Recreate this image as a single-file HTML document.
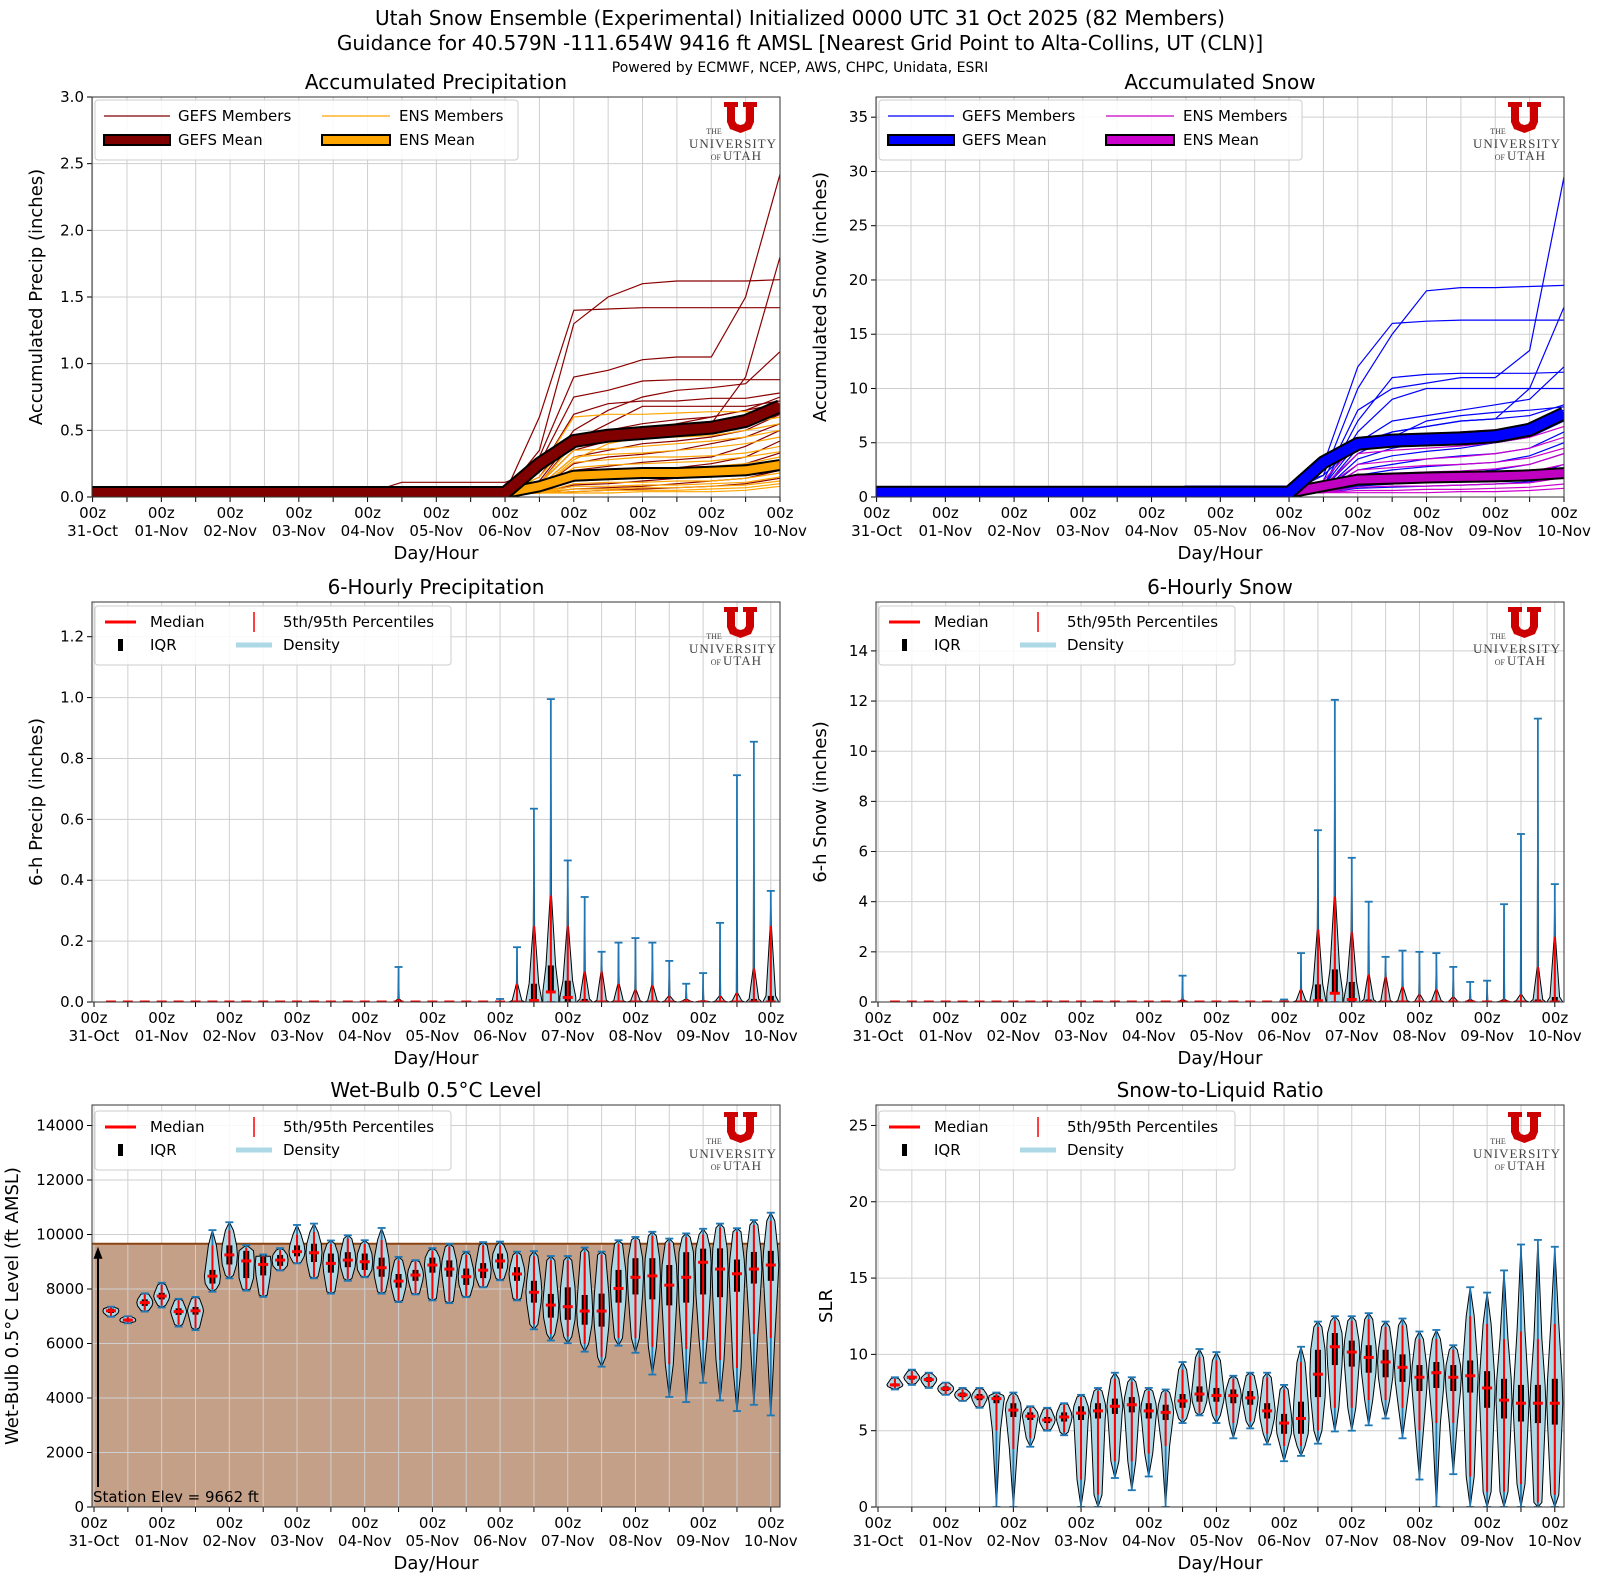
<!DOCTYPE html>
<html><head><meta charset="utf-8"><title>Utah Snow Ensemble</title>
<style>
html,body{margin:0;padding:0;background:#fff;}
svg{display:block;font-family:"DejaVu Sans","Liberation Sans",sans-serif;}
</style></head>
<body>
<svg id="chart" width="1600" height="1582" viewBox="0 0 1600 1582" xmlns="http://www.w3.org/2000/svg">
<text x="800" y="25" text-anchor="middle" font-size="20">Utah Snow Ensemble (Experimental) Initialized 0000 UTC 31 Oct 2025 (82 Members)</text>
<text x="800" y="50" text-anchor="middle" font-size="20">Guidance for 40.579N -111.654W 9416 ft AMSL [Nearest Grid Point to Alta-Collins, UT (CLN)]</text>
<text x="800" y="72" text-anchor="middle" font-size="14">Powered by ECMWF, NCEP, AWS, CHPC, Unidata, ESRI</text>
</svg>
<script>
// ---------- data ----------
const hours = [0,12,24,36,48,60,72,84,96,108,120,132,144,156,168,180,192,204,216,228,240];
const dateLabels = ['31-Oct','01-Nov','02-Nov','03-Nov','04-Nov','05-Nov','06-Nov','07-Nov','08-Nov','09-Nov','10-Nov'];
const precipTicks = [0,0.5,1.0,1.5,2.0,2.5,3.0];
const snowTicks = [0,5,10,15,20,25,30,35];
const p6Ticks = [0,0.2,0.4,0.6,0.8,1.0,1.2];
const s6Ticks = [0,2,4,6,8,10,12,14];
const wbTicks = [0,2000,4000,6000,8000,10000,12000,14000];
const slrTicks = [0,5,10,15,20,25];
const stationElev = 9662;

const gefsPrecip = [
 [.03,.03,.03,.03,.03,.03,.03,.03,.03,.03,.03,.03,.03,.35,1.3,1.5,1.6,1.62,1.62,1.62,1.63],
 [.03,.03,.03,.03,.03,.03,.03,.03,.03,.03,.03,.03,.03,.6,1.4,1.41,1.42,1.42,1.42,1.42,1.42],
 [.03,.03,.03,.03,.03,.03,.03,.03,.03,.03,.03,.03,.03,.3,.9,.95,1.03,1.05,1.05,1.5,2.42],
 [.03,.03,.03,.03,.03,.03,.03,.03,.03,.03,.03,.03,.03,.25,.75,.8,.87,.88,.88,.88,.88],
 [.03,.03,.03,.03,.03,.03,.03,.03,.03,.03,.03,.03,.03,.2,.62,.7,.72,.72,.74,.74,.78],
 [.03,.03,.03,.03,.03,.03,.03,.03,.03,.03,.03,.03,.03,.15,.5,.65,.75,.8,.82,.85,1.09],
 [.03,.03,.03,.03,.03,.03,.03,.03,.03,.03,.03,.03,.03,.12,.45,.5,.52,.52,.55,.9,1.8],
 [.03,.03,.03,.03,.03,.03,.03,.03,.03,.03,.03,.03,.03,.1,.42,.55,.68,.68,.68,.68,.72],
 [.03,.03,.03,.03,.03,.03,.03,.03,.03,.03,.03,.03,.03,.1,.35,.42,.5,.55,.6,.65,.7],
 [.03,.03,.03,.03,.03,.03,.03,.03,.03,.03,.03,.03,.03,.08,.3,.35,.4,.42,.45,.5,.62],
 [.03,.03,.03,.03,.03,.03,.03,.03,.03,.03,.03,.03,.03,.06,.25,.3,.32,.35,.4,.45,.55],
 [.03,.03,.03,.03,.03,.03,.03,.03,.03,.03,.03,.03,.03,.05,.2,.23,.26,.28,.3,.38,.5],
 [.03,.03,.03,.03,.03,.03,.03,.03,.03,.03,.03,.03,.03,.05,.15,.18,.2,.22,.25,.3,.42],
 [.03,.03,.03,.03,.03,.03,.03,.03,.03,.03,.03,.03,.03,.04,.12,.14,.16,.18,.2,.25,.33],
 [.03,.03,.03,.03,.03,.03,.03,.03,.03,.03,.03,.03,.03,.04,.09,.1,.12,.14,.16,.2,.27],
 [.03,.03,.03,.03,.03,.03,.03,.03,.03,.03,.03,.03,.03,.03,.06,.07,.08,.1,.12,.14,.2],
 [.03,.03,.03,.03,.03,.03,.03,.03,.03,.03,.03,.03,.03,.03,.04,.05,.06,.07,.08,.1,.14],
 [.03,.03,.03,.03,.03,.03,.03,.03,.03,.11,.11,.11,.11,.2,.45,.5,.55,.58,.6,.65,.75]
];
const ensPrecip = [
 [.03,.03,.03,.03,.03,.03,.03,.03,.03,.03,.03,.03,.03,.2,.6,.62,.62,.63,.64,.64,.65],
 [.03,.03,.03,.03,.03,.03,.03,.03,.03,.03,.03,.03,.03,.15,.45,.47,.5,.5,.52,.55,.6],
 [.03,.03,.03,.03,.03,.03,.03,.03,.03,.03,.03,.03,.03,.1,.4,.42,.44,.45,.46,.5,.55],
 [.03,.03,.03,.03,.03,.03,.03,.03,.03,.03,.03,.03,.03,.1,.35,.36,.38,.4,.42,.45,.5],
 [.03,.03,.03,.03,.03,.03,.03,.03,.03,.03,.03,.03,.03,.08,.3,.32,.33,.35,.37,.4,.45],
 [.03,.03,.03,.03,.03,.03,.03,.03,.03,.03,.03,.03,.03,.06,.26,.28,.3,.3,.31,.33,.38],
 [.03,.03,.03,.03,.03,.03,.03,.03,.03,.03,.03,.03,.03,.05,.22,.24,.25,.26,.27,.3,.34],
 [.03,.03,.03,.03,.03,.03,.03,.03,.03,.03,.03,.03,.03,.05,.18,.2,.21,.22,.23,.25,.3],
 [.03,.03,.03,.03,.03,.03,.03,.03,.03,.03,.03,.03,.03,.04,.15,.16,.17,.18,.19,.21,.26],
 [.03,.03,.03,.03,.03,.03,.03,.03,.03,.03,.03,.03,.03,.04,.12,.13,.14,.14,.15,.17,.22],
 [.03,.03,.03,.03,.03,.03,.03,.03,.03,.03,.03,.03,.03,.03,.1,.11,.11,.12,.12,.14,.18],
 [.03,.03,.03,.03,.03,.03,.03,.03,.03,.03,.03,.03,.03,.03,.08,.08,.09,.09,.1,.11,.15],
 [.03,.03,.03,.03,.03,.03,.03,.03,.03,.03,.03,.03,.03,.03,.06,.06,.07,.07,.08,.09,.12],
 [.03,.03,.03,.03,.03,.03,.03,.03,.03,.03,.03,.03,.03,.03,.04,.05,.05,.05,.06,.07,.1],
 [.03,.03,.03,.03,.03,.03,.03,.03,.03,.03,.03,.03,.03,.03,.03,.03,.04,.04,.04,.05,.08],
 [.03,.03,.03,.03,.03,.03,.03,.03,.03,.03,.03,.03,.03,.06,.28,.4,.45,.5,.55,.6,.65]
];
const gefsPrecipMean = [.03,.03,.03,.03,.03,.03,.03,.03,.03,.03,.03,.03,.03,.25,.42,.46,.48,.5,.52,.57,.68];
const ensPrecipMean  = [.03,.03,.03,.03,.03,.03,.03,.03,.03,.03,.03,.03,.03,.08,.16,.17,.18,.18,.19,.2,.24];

const gefsSnow = [
 [.4,.4,.4,.4,.4,.4,.4,.4,.4,.4,.4,.4,.4,3,12,16,16.2,16.3,16.3,16.3,16.3],
 [.4,.4,.4,.4,.4,.4,.4,.4,.4,.4,.4,.4,.4,2,10,15,19,19.3,19.3,19.4,19.5],
 [.4,.4,.4,.4,.4,.4,.4,.4,.4,.4,.4,.4,.4,1.5,8,10,10.5,11,11,13.5,29.5],
 [.4,.4,.4,.4,.4,.4,.4,.4,.4,.4,.4,.4,.4,1,7,11,11.3,11.4,11.4,11.4,11.5],
 [.4,.4,.4,.4,.4,.4,.4,.4,.4,.4,.4,.4,.4,1,6,9,10,10,10,10,10],
 [.4,.4,.4,.4,.4,.4,.4,.4,.4,.4,.4,.4,.4,1,5,7,7.5,8,8.5,9,12],
 [.4,.4,.4,.4,.4,.4,.4,.4,.4,.4,.4,.4,.4,.8,4.5,6,6.5,7,7.2,10,17.5],
 [.4,.4,.4,.4,.4,.4,.4,.4,.4,.4,.4,.4,.4,.8,4,5.5,7,7.5,7.8,8,8.3],
 [.4,.4,.4,.4,.4,.4,.4,.4,.4,.4,.4,.4,.4,.6,3.5,4.5,5,5.5,6,6.5,8],
 [.4,.4,.4,.4,.4,.4,.4,.4,.4,.4,.4,.4,.4,.5,3,3.8,4.2,4.5,5,5.5,7],
 [.4,.4,.4,.4,.4,.4,.4,.4,.4,.4,.4,.4,.4,.5,2.5,3,3.5,3.8,4,4.5,6],
 [.4,.4,.4,.4,.4,.4,.4,.4,.4,.4,.4,.4,.4,.5,2,2.5,2.8,3,3.2,3.8,5],
 [.4,.4,.4,.4,.4,.4,.4,.4,.4,.4,.4,.4,.4,.4,1.5,1.8,2,2.2,2.5,3,4],
 [.4,.4,.4,.4,.4,.4,.4,.4,.4,.4,.4,.4,.4,.4,1,1.2,1.4,1.6,1.8,2,3],
 [.4,.4,.4,.4,.4,.4,.4,.4,.4,.4,.4,.4,.4,.4,.8,.9,1,1.1,1.2,1.4,2],
 [.4,.4,.4,.4,.4,.4,.4,.4,.4,1.0,1.0,1.0,1.0,2,5,6,6.5,7,7.2,7.5,8.5]
];
const ensSnow = [
 [.4,.4,.4,.4,.4,.4,.4,.4,.4,.4,.4,.4,.4,1.5,5,5.5,5.8,6,6.2,6.5,7.5],
 [.4,.4,.4,.4,.4,.4,.4,.4,.4,.4,.4,.4,.4,1,4,4.3,4.5,4.7,5,5.5,6.5],
 [.4,.4,.4,.4,.4,.4,.4,.4,.4,.4,.4,.4,.4,.8,3,3.3,3.5,3.7,4,4.5,5.5],
 [.4,.4,.4,.4,.4,.4,.4,.4,.4,.4,.4,.4,.4,.6,2.5,2.7,2.9,3,3.2,3.6,4.5],
 [.4,.4,.4,.4,.4,.4,.4,.4,.4,.4,.4,.4,.4,.5,2,2.2,2.3,2.4,2.6,3,4],
 [.4,.4,.4,.4,.4,.4,.4,.4,.4,.4,.4,.4,.4,.5,1.6,1.7,1.8,1.9,2,2.3,3],
 [.4,.4,.4,.4,.4,.4,.4,.4,.4,.4,.4,.4,.4,.4,1.2,1.3,1.4,1.5,1.6,1.8,2.5],
 [.4,.4,.4,.4,.4,.4,.4,.4,.4,.4,.4,.4,.4,.4,.9,1,1,1.1,1.2,1.3,1.8],
 [.4,.4,.4,.4,.4,.4,.4,.4,.4,.4,.4,.4,.4,.4,.6,.6,.7,.7,.8,.9,1.2],
 [.4,.4,.4,.4,.4,.4,.4,.4,.4,.4,.4,.4,.4,.4,.4,.4,.4,.5,.5,.6,.8]
];
const gefsSnowMean = [.4,.4,.4,.4,.4,.4,.4,.4,.4,.4,.4,.4,.4,3.2,4.9,5.2,5.3,5.4,5.6,6.2,7.7];
const ensSnowMean  = [.4,.4,.4,.4,.4,.4,.4,.4,.4,.4,.4,.4,.4,1,1.6,1.7,1.8,1.85,1.9,2,2.2];

const p6Med = [0,0,0,0,0,0,0,0,0,0,0,0,0,0,0,0,0,0,0,0,0,0,0,0,0,.005,.033,.015,0,0,0,0,0,0,0,0,0,0,0,0];
const p6Q1  = [0,0,0,0,0,0,0,0,0,0,0,0,0,0,0,0,0,0,0,0,0,0,0,0,0,0,.03,0,0,0,0,0,0,0,0,0,0,0,0,0];
const p6Q3  = [0,0,0,0,0,0,0,0,0,0,0,0,0,0,0,0,0,0,0,0,0,0,0,0,.005,.06,.12,.07,.01,.005,.004,.004,.004,.003,.002,.002,.003,.004,.01,.02];
const p6P5  = [0,0,0,0,0,0,0,0,0,0,0,0,0,0,0,0,0,0,0,0,0,0,0,0,0,0,0,0,0,0,0,0,0,0,0,0,0,0,0,0];
const p6P95 = [0,0,0,0,0,0,0,0,0,0,0,0,0,0,0,0,0,.01,0,0,0,0,0,0,.06,.25,.35,.25,.10,.10,.06,.04,.055,.02,.01,.005,.02,.03,.11,.25];
const p6Lo  = [0,0,0,0,0,0,0,0,0,0,0,0,0,0,0,0,0,0,0,0,0,0,0,0,0,0,0,0,0,0,0,0,0,0,0,0,0,0,0,0];
const p6Hi  = [.003,.003,.003,.003,.003,.003,.003,.003,.003,.003,.003,.003,.003,.003,.003,.003,.003,.115,.003,.003,.003,.003,.003,.01,.18,.635,.995,.465,.345,.165,.195,.21,.195,.135,.06,.095,.26,.745,.855,.365];

const s6Med = [0,0,0,0,0,0,0,0,0,0,0,0,0,0,0,0,0,0,0,0,0,0,0,0,0,.05,.35,.1,0,0,0,0,0,0,0,0,0,0,0,0];
const s6Q1  = [0,0,0,0,0,0,0,0,0,0,0,0,0,0,0,0,0,0,0,0,0,0,0,0,0,0,.3,0,0,0,0,0,0,0,0,0,0,0,0,0];
const s6Q3  = [0,0,0,0,0,0,0,0,0,0,0,0,0,0,0,0,0,0,0,0,0,0,0,0,.05,.7,1.3,.8,.1,.05,.05,.02,.05,.01,.01,.01,.02,.05,.1,.2];
const s6P5  = [0,0,0,0,0,0,0,0,0,0,0,0,0,0,0,0,0,0,0,0,0,0,0,0,0,0,0,0,0,0,0,0,0,0,0,0,0,0,0,0];
const s6P95 = [0,0,0,0,0,0,0,0,0,0,0,0,0,0,0,0,0,.1,0,0,0,0,0,0,.5,2.9,4.2,2.8,1.1,1.0,.6,.3,.5,.2,.1,.05,.1,.3,1.4,2.6];
const s6Lo  = [0,0,0,0,0,0,0,0,0,0,0,0,0,0,0,0,0,0,0,0,0,0,0,0,0,0,0,0,0,0,0,0,0,0,0,0,0,0,0,0];
const s6Hi  = [.03,.03,.03,.03,.03,.03,.03,.03,.03,.03,.03,.03,.03,.03,.03,.03,.03,1.05,.03,.03,.03,.03,.03,.1,1.95,6.85,12.05,5.75,4.0,1.8,2.05,2.0,1.95,1.4,.8,.85,3.9,6.7,11.3,4.7];

const wbMed = [7200,6860,7500,7740,7170,7200,8470,9250,9030,8900,9060,9370,9330,8940,9060,9000,8780,8290,8510,8880,8730,8450,8690,9030,8550,7880,7410,7350,7190,7190,8020,8430,8480,8140,8430,8980,8730,8560,8730,8880];
const wbQ1  = [7120,6800,7380,7620,7050,7060,8200,8900,8400,8500,8850,9200,8990,8600,8800,8700,8450,8050,8300,8600,8450,8150,8400,8750,8300,7500,6950,6870,6690,6620,7500,7800,7620,7400,7500,7800,7700,7900,8200,8300];
const wbQ3  = [7280,6920,7620,7860,7290,7340,8700,9600,9400,9200,9250,9600,9660,9300,9350,9300,9150,8550,8700,9150,9050,8750,8950,9300,8800,8300,7820,8060,7780,7830,8700,9130,9130,8880,9350,9480,9490,9080,9360,9400];
const wbP5  = [7020,6770,7220,7400,6700,6580,8000,8500,8000,7780,8720,8980,8450,7900,8380,8480,7900,7580,7850,7650,7550,7750,8100,8380,7650,6700,6350,6250,6000,5500,6200,6200,5870,5240,5800,6130,5400,5100,6350,6200];
const wbP95 = [7320,6980,7800,8150,7580,7650,9600,10150,9500,9200,9420,10000,10100,9650,9850,9650,9800,9050,9000,9400,9550,9250,9600,9600,9250,9200,9050,9050,9350,9250,9650,9800,9950,9700,9900,10000,10250,10100,10350,10500];
const wbLo  = [6980,6740,7170,7320,6620,6490,7900,8390,7940,7710,8680,8940,8390,7830,8300,8430,7830,7520,7800,7580,7480,7700,8060,8320,7580,6520,6110,6010,5700,5150,5920,5660,4860,4040,3850,4560,3910,3520,3750,3360];
const wbHi  = [7350,7000,7840,8230,7640,7710,10160,10450,9610,9270,9500,10350,10400,9780,9970,9790,10240,9180,9060,9500,9660,9370,9720,9740,9370,9390,9210,9210,9520,9370,9790,9910,10100,9850,10040,10210,10400,10230,10530,10800];

const slrMed = [8.0,8.5,8.35,7.75,7.35,7.2,7.1,6.35,5.95,5.7,5.9,6.15,6.3,6.6,6.7,6.3,6.2,6.95,7.4,7.3,7.3,7.15,6.3,5.5,5.8,8.7,10.5,10.15,9.8,9.5,9.15,8.5,8.8,8.5,8.6,7.8,7.0,6.8,6.8,6.8];
const slrQ1  = [7.9,8.35,8.2,7.6,7.2,7.0,6.8,5.9,5.7,5.5,5.6,5.7,5.8,6.1,6.2,5.8,5.7,6.5,6.9,6.9,6.8,6.7,5.8,4.8,4.8,7.2,9.3,9.2,8.8,8.5,8.2,7.6,7.8,7.6,7.5,6.5,5.8,5.6,5.5,5.4];
const slrQ3  = [8.1,8.6,8.5,7.9,7.5,7.4,7.3,6.8,6.2,5.9,6.2,6.6,6.8,7.1,7.2,6.8,6.7,7.4,7.9,7.8,7.7,7.6,6.8,6.1,6.9,10.3,11.4,10.9,10.6,10.3,10.0,9.3,9.5,9.3,9.6,8.9,8.4,8.0,8.0,8.4];
const slrP5  = [7.8,8.1,7.9,7.4,7.0,6.6,5.0,3.8,4.5,5.1,4.9,1.8,0.8,3.0,3.0,3.5,4.0,5.8,6.2,6.0,5.5,5.6,4.8,4.0,4.0,5.0,6.5,6.5,7.0,7.0,6.5,5.0,5.5,5.5,2.0,1.0,1.0,1.5,0.3,0.8];
const slrP95 = [8.4,8.9,8.7,8.1,7.7,7.7,7.4,7.3,6.5,6.4,6.7,7.2,7.6,8.4,8.2,7.6,7.5,9.0,9.8,9.6,8.4,8.6,8.5,7.7,9.5,11.8,12.2,12.2,12.3,11.8,11.9,11.0,11.0,10.3,12.5,12.0,11.0,11.5,11.0,12.0];
const slrLo  = [7.7,8.0,7.8,7.35,6.95,6.5,0,0,3.95,5.0,4.7,0,0,1.9,1.1,2.0,0,5.5,6.0,5.5,4.5,5.15,4.1,3.0,3.35,4.15,4.95,5.0,5.35,5.8,4.5,1.8,0,2.15,0,0,0,0,0,0];
const slrHi  = [8.5,9.0,8.8,8.15,7.8,7.8,7.5,7.5,6.6,6.5,6.8,7.35,7.8,8.8,8.5,7.8,7.7,9.5,10.35,10.15,8.6,8.8,8.8,8.0,10.5,12.15,12.5,12.5,12.7,12.15,12.35,11.5,11.6,10.6,14.4,14.05,15.5,17.2,17.5,17.05];

// ---------- drawing ----------
const NS='http://www.w3.org/2000/svg';
const svg=document.getElementById('chart');
function mk(tag,attrs,parent){const e=document.createElementNS(NS,tag);for(const k in attrs)e.setAttribute(k,attrs[k]);(parent||svg).appendChild(e);return e;}

const panels={
 tl:{x0:92,x1:780,y0:97,y1:497,ymax:3.0,mode:'line'},
 tr:{x0:876,x1:1564,y0:97,y1:497,ymax:36.86,mode:'line'},
 ml:{x0:92,x1:780,y0:602,y1:1002,ymax:1.314,mode:'vio'},
 mr:{x0:876,x1:1564,y0:602,y1:1002,ymax:15.95,mode:'vio'},
 bl:{x0:92,x1:780,y0:1105,y1:1507,ymax:14752,mode:'vio'},
 br:{x0:876,x1:1564,y0:1105,y1:1507,ymax:26.34,mode:'vio'}
};
function xH(p,h){ return p.mode==='line' ? p.x0+0.6+h*(p.x1-p.x0-0.6)/240 : p.x0+2+(h/6)*16.92; }
function yV(p,v){ return p.y1-(v/p.ymax)*(p.y1-p.y0); }

function setupPanel(key,title,ylabel,ticks,fmt,ylabX){
 const p=panels[key];
 const g=mk('g',{});
 
 
 p.g=g;
 const cp=mk('clipPath',{id:'clip-'+key},g);
 mk('rect',{x:p.x0,y:p.y0,width:p.x1-p.x0,height:p.y1-p.y0},cp);
 mk('rect',{x:p.x0,y:p.y0,width:p.x1-p.x0,height:p.y1-p.y0,fill:'#fff'},g);
 p.bg=mk('g',{'clip-path':'url(#clip-'+key+')'},g);
 p.grid=mk('g',{},g);
 p.plot=mk('g',{'clip-path':'url(#clip-'+key+')'},g);
 for(let h=0;h<=240;h+=12){
  const x=xH(p,h);
  const gl=mk('line',{x1:x,x2:x,y1:p.y0,y2:p.y1,stroke:'#cfcfcf','stroke-width':1},p.grid);
  
  
  mk('line',{x1:x,x2:x,y1:p.y1,y2:p.y1+5,stroke:'#000','stroke-width':1},g);
  if(h%24===0){
   const t=mk('text',{x:x,y:p.y1+21,'text-anchor':'middle','font-size':15},g);
   t.textContent='00z';
   
   
   const d=mk('text',{x:x,y:p.y1+39,'text-anchor':'middle','font-size':15},g);
   d.textContent=dateLabels[h/24];
   
   
  }
 }
 ticks.forEach(v=>{
  const y=yV(p,v);
  const gl=mk('line',{x1:p.x0,x2:p.x1,y1:y,y2:y,stroke:'#cfcfcf','stroke-width':1},p.grid);
  
  
  mk('line',{x1:p.x0-5,x2:p.x0,y1:y,y2:y,stroke:'#000','stroke-width':1},g);
  const t=mk('text',{x:p.x0-8,y:y+5,'text-anchor':'end','font-size':15},g);
  t.textContent=fmt(v);
  
  
 });
 const tt=mk('text',{x:(p.x0+p.x1)/2,y:p.y0-8,'text-anchor':'middle','font-size':20},g);
 tt.textContent=title;
 
 
 const xl=mk('text',{x:(p.x0+p.x1)/2,y:p.y1+62,'text-anchor':'middle','font-size':18},g);
 xl.textContent='Day/Hour';
 
 
 const cy=(p.y0+p.y1)/2;
 const yl=mk('text',{x:ylabX,y:cy,'text-anchor':'middle','font-size':18,transform:'rotate(-90 '+ylabX+' '+cy+')'},g);
 yl.textContent=ylabel;
 
 
 return p;
}
function finishPanel(p){
 const fr=mk('rect',{x:p.x0,y:p.y0,width:p.x1-p.x0,height:p.y1-p.y0,fill:'none',stroke:'#333','stroke-width':1},p.g);
 
 
}
function linePath(p,vals){
 return vals.map((v,i)=>(i?'L':'M')+xH(p,hours[i]).toFixed(1)+','+yV(p,v).toFixed(1)).join('');
}
function drawMember(p,vals,color,name){
 const e=mk('path',{d:linePath(p,vals),fill:'none',stroke:color,'stroke-width':1.2},p.plot);
 
 
}
function drawMean(p,vals,color,w,name){
 mk('path',{d:linePath(p,vals),fill:'none',stroke:'#000','stroke-width':w+4,'stroke-linejoin':'round'},p.plot);
 const e=mk('path',{d:linePath(p,vals),fill:'none',stroke:color,'stroke-width':w,'stroke-linejoin':'round'},p.plot);
 
 
}
function drawViolins(p,med,q1,q3,p5,p95,lo,hi,minSpan,ws){
 for(let i=0;i<med.length;i++){
  const x=xH(p,(i+1)*6);
  const g=mk('g',{},p.plot);
  
  
  const w=8;
  if(hi[i]-lo[i]>minSpan){
   const vs=[lo[i],p5[i],q1[i],med[i],q3[i],p95[i],hi[i]];
   let right=vs.map((v,k)=>[x+ws[k]*w,yV(p,v)]);
   let left=vs.slice().reverse().map((v,k)=>[x-ws[6-k]*w,yV(p,v)]);
   const pts=right.concat(left).map(a=>a[0].toFixed(1)+','+a[1].toFixed(1)).join(' ');
   const body=mk('polygon',{points:pts,fill:'#add8e6',stroke:'#000','stroke-width':1,'stroke-linejoin':'round'},g);
   
   
   mk('line',{x1:x,x2:x,y1:yV(p,lo[i]),y2:yV(p,hi[i]),stroke:'#1f77b4','stroke-width':1.8},g);
   mk('line',{x1:x-4,x2:x+4,y1:yV(p,hi[i]),y2:yV(p,hi[i]),stroke:'#1f77b4','stroke-width':1.8},g);
   mk('line',{x1:x-4,x2:x+4,y1:yV(p,lo[i]),y2:yV(p,lo[i]),stroke:'#1f77b4','stroke-width':1.8},g);
   const yq3=yV(p,q3[i]),yq1=yV(p,q1[i]);
   mk('rect',{x:x-3,y:yq3,width:6,height:Math.max(0.5,yq1-yq3),fill:'#000'},g);
   mk('line',{x1:x,x2:x,y1:yV(p,p5[i]),y2:yV(p,p95[i]),stroke:'#ff0000','stroke-width':2},g);
  }
  const m=mk('line',{x1:x-5,x2:x+5,y1:yV(p,med[i]),y2:yV(p,med[i]),stroke:'#ff0000','stroke-width':3},g);
  
  
 }
}
function legendBox(x,y,w,h){
 const r=mk('rect',{x:x,y:y,width:w,height:h,rx:3,fill:'#fff','fill-opacity':0.85,stroke:'#cccccc','stroke-width':1});
 
 
}
function legText(x,y,s){
 const t=mk('text',{x:x,y:y+5,'font-size':15});
 t.textContent=s;
 
 
}
function lineLegend(dx,c1,c2,m1,m2){
 legendBox(95+dx,100,423,60);
 mk('line',{x1:104+dx,x2:170+dx,y1:116,y2:116,stroke:c1,'stroke-width':1.2});
 legText(178+dx,116,m1+' Members');
 mk('line',{x1:322+dx,x2:390+dx,y1:116,y2:116,stroke:c2,'stroke-width':1.2});
 legText(399+dx,116,m2+' Members');
 mk('rect',{x:104+dx,y:135,width:66,height:10,fill:c1,stroke:'#000','stroke-width':2});
 legText(178+dx,140,m1+' Mean');
 mk('rect',{x:322+dx,y:135,width:68,height:10,fill:c2,stroke:'#000','stroke-width':2});
 legText(399+dx,140,m2+' Mean');
}
function vioLegend(dx,dy){
 legendBox(95+dx,606+dy,356,59);
 mk('line',{x1:105+dx,x2:136+dx,y1:622+dy,y2:622+dy,stroke:'#ff0000','stroke-width':3});
 legText(150+dx,622+dy,'Median');
 mk('rect',{x:118+dx,y:639+dy,width:5,height:12,fill:'#000'});
 legText(150+dx,645+dy,'IQR');
 mk('line',{x1:254+dx,x2:254+dx,y1:612+dy,y2:632+dy,stroke:'#ff0000','stroke-width':1.5});
 legText(283+dx,622+dy,'5th/95th Percentiles');
 mk('line',{x1:236+dx,x2:272+dx,y1:645+dy,y2:645+dy,stroke:'#add8e6','stroke-width':5});
 legText(283+dx,645+dy,'Density');
}
function logo(dx,dy){
 const g=mk('g',{transform:'translate('+dx+','+dy+')'});
 
 
 const L=724,T=102;
 const pts=[[0,0],[14,0],[14,5],[11,5],[11,19],[13,22],[16.5,23],[20,22],[22,19],[22,5],[19,5],[19,0],[33,0],[33,5],[30,5],[30,20],[27,27],[16.5,31],[6,27],[3,20],[3,5],[0,5]];
 mk('polygon',{points:pts.map(a=>(L+a[0])+','+(T+a[1])).join(' '),fill:'#cc0000'},g);
 const t1=mk('text',{x:714,y:134,'text-anchor':'middle','font-size':8,'font-family':'Liberation Serif, serif',fill:'#444'},g);t1.textContent='THE';
 const t2=mk('text',{x:733,y:148,'text-anchor':'middle','font-size':13,'font-family':'Liberation Serif, serif','letter-spacing':1,fill:'#444'},g);t2.textContent='UNIVERSITY';
 const t3=mk('text',{x:721,y:160,'text-anchor':'end','font-size':8,'font-family':'Liberation Serif, serif',fill:'#444'},g);t3.textContent='OF';
 const t4=mk('text',{x:723,y:160,'font-size':13,'font-family':'Liberation Serif, serif','letter-spacing':1,fill:'#444'},g);t4.textContent='UTAH';
}

const symShape=[0,.5,.9,1,.9,.5,0];
const skewShape=[1,1,1,1,.6,.08,0];

let p=setupPanel('tl','Accumulated Precipitation','Accumulated Precip (inches)',precipTicks,v=>v.toFixed(1),42);
gefsPrecip.forEach(m=>drawMember(p,m,'#8b0000','gefs-precip-member'));
ensPrecip.forEach(m=>drawMember(p,m,'#ffa500','ens-precip-member'));
drawMean(p,ensPrecipMean,'#ffa500',8,'ens-precip-mean');
drawMean(p,gefsPrecipMean,'#800000',10,'gefs-precip-mean');
finishPanel(p);

p=setupPanel('tr','Accumulated Snow','Accumulated Snow (inches)',snowTicks,v=>String(v),826);
gefsSnow.forEach(m=>drawMember(p,m,'#0000ff','gefs-snow-member'));
ensSnow.forEach(m=>drawMember(p,m,'#cc00cc','ens-snow-member'));
drawMean(p,ensSnowMean,'#c000c0',8,'ens-snow-mean');
drawMean(p,gefsSnowMean,'#0000ff',10,'gefs-snow-mean');
finishPanel(p);

p=setupPanel('ml','6-Hourly Precipitation','6-h Precip (inches)',p6Ticks,v=>v.toFixed(1),42);
drawViolins(p,p6Med,p6Q1,p6Q3,p6P5,p6P95,p6Lo,p6Hi,0.005,skewShape);
finishPanel(p);

p=setupPanel('mr','6-Hourly Snow','6-h Snow (inches)',s6Ticks,v=>String(v),826);
drawViolins(p,s6Med,s6Q1,s6Q3,s6P5,s6P95,s6Lo,s6Hi,0.05,skewShape);
finishPanel(p);

p=setupPanel('bl','Wet-Bulb 0.5°C Level','Wet-Bulb 0.5°C Level (ft AMSL)',wbTicks,v=>String(v),18);
const terrain=mk('rect',{x:p.x0,y:yV(p,stationElev),width:p.x1-p.x0,height:p.y1-yV(p,stationElev),fill:'#c4a088'},p.bg);


const tline=mk('line',{x1:p.x0,x2:p.x1,y1:yV(p,stationElev),y2:yV(p,stationElev),stroke:'#8b4513','stroke-width':2},p.plot);


drawViolins(p,wbMed,wbQ1,wbQ3,wbP5,wbP95,wbLo,wbHi,10,symShape);
const arr=mk('line',{x1:98,x2:98,y1:1487,y2:yV(p,stationElev)+12,stroke:'#000','stroke-width':2},p.g);


const ah=yV(p,stationElev)+3;
mk('polygon',{points:'98,'+ah+' 93.5,'+(ah+12)+' 102.5,'+(ah+12),fill:'#000'},p.g);
const st=mk('text',{x:93,y:1502,'font-size':15},p.g);
st.textContent='Station Elev = 9662 ft';


finishPanel(p);

p=setupPanel('br','Snow-to-Liquid Ratio','SLR',slrTicks,v=>String(v),832);
drawViolins(p,slrMed,slrQ1,slrQ3,slrP5,slrP95,slrLo,slrHi,0.05,symShape);
finishPanel(p);

lineLegend(0,'#800000','#ffa500','GEFS','ENS');
lineLegend(784,'#0000ff','#cc00cc','GEFS','ENS');
vioLegend(0,0); vioLegend(784,0); vioLegend(0,505); vioLegend(784,505);
logo(0,0); logo(784,0); logo(0,505); logo(784,505); logo(0,1010); logo(784,1010);
</script>
</body></html>
